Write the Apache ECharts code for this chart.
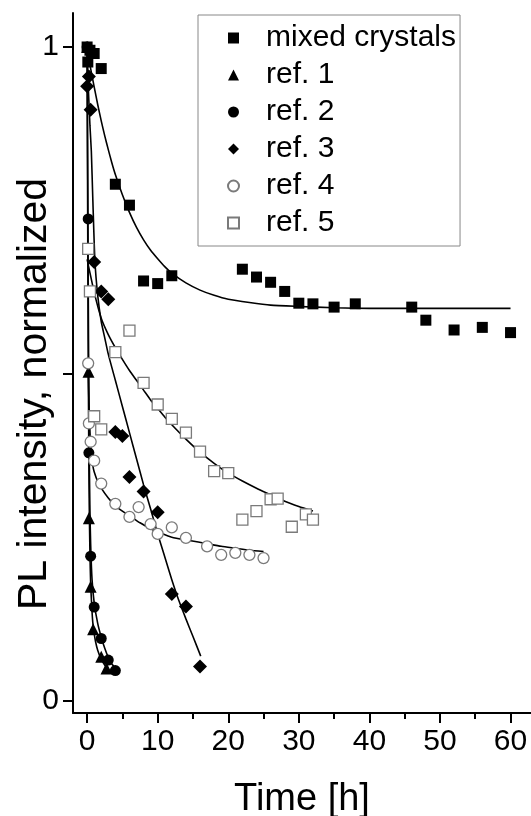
<!DOCTYPE html>
<html>
<head>
<meta charset="utf-8">
<script src="https://cdn.jsdelivr.net/npm/echarts@6/dist/echarts.min.js"></script>
<style>html,body{margin:0;padding:0;background:#fff}#c{width:531px;height:816px}</style>
</head>
<body>
<div id="c"></div>
<script>
// ---- data ----
const seriesNames = ['mixed crystals', 'ref. 1', 'ref. 2', 'ref. 3', 'ref. 4', 'ref. 5'];

const mixedT = [0, 0.1, 0.4, 1, 2, 4, 6, 8, 10, 12, 22, 24, 26, 28, 30, 32, 35, 38, 46, 48, 52, 56, 60];
const mixedI = [1.0, 0.977, 0.995, 0.99, 0.967, 0.79, 0.758, 0.642, 0.638, 0.65, 0.66, 0.648, 0.64, 0.626, 0.608, 0.607, 0.602, 0.607, 0.602, 0.582, 0.567, 0.571, 0.563];

const ref1T = [0, 0.2, 0.25, 0.5, 0.85, 2, 2.75];
const ref1I = [1.0, 0.503, 0.279, 0.174, 0.109, 0.067, 0.049];

const ref2T = [0, 0.15, 0.25, 0.5, 1, 2, 3, 4];
const ref2I = [1.0, 0.737, 0.379, 0.221, 0.143, 0.095, 0.062, 0.046];

const ref3T = [0, 0.25, 0.5, 1, 2, 3, 4, 5, 6, 8, 10, 12, 14, 16];
const ref3I = [0.94, 0.955, 0.904, 0.671, 0.626, 0.614, 0.411, 0.405, 0.342, 0.320, 0.288, 0.163, 0.144, 0.052];

const ref4T = [0.15, 0.25, 0.5, 1, 2, 4, 6, 7.3, 9, 10, 12, 14, 17, 19, 21, 23, 25];
const ref4I = [0.516, 0.424, 0.396, 0.367, 0.332, 0.301, 0.281, 0.296, 0.270, 0.255, 0.265, 0.249, 0.236, 0.223, 0.226, 0.223, 0.218];

const ref5T = [0.15, 0.4, 1, 2, 4, 6, 8, 10, 12, 14, 16, 18, 20, 22, 24, 26, 27, 29, 31, 32];
const ref5I = [0.691, 0.626, 0.435, 0.415, 0.533, 0.566, 0.486, 0.453, 0.431, 0.410, 0.381, 0.351, 0.348, 0.277, 0.290, 0.308, 0.309, 0.266, 0.285, 0.277];

// fitted curves
const mixedFitT = [0, 0.5, 1, 1.5, 2, 2.5, 3, 3.5, 4, 5, 6, 7, 8, 9, 10, 11, 12, 14, 16, 18, 20, 23, 26, 30, 35, 40, 50, 60];
const mixedFitI = [1.0, 0.967, 0.939, 0.912, 0.887, 0.864, 0.843, 0.823, 0.805, 0.774, 0.747, 0.724, 0.705, 0.689, 0.676, 0.664, 0.654, 0.639, 0.628, 0.620, 0.614, 0.609, 0.605, 0.603, 0.601, 0.600, 0.600, 0.600];

const ref1FitT = [0, 0.05, 0.1, 0.15, 0.2, 0.25, 0.3, 0.4, 0.5, 0.65, 0.8, 1.0, 1.2, 1.5, 2, 2.4, 2.8];
const ref1FitI = [1.0, 0.83, 0.68, 0.55, 0.45, 0.36, 0.30, 0.225, 0.18, 0.145, 0.12, 0.103, 0.09, 0.077, 0.063, 0.056, 0.05];

const ref2FitT = [0, 0.05, 0.1, 0.15, 0.2, 0.25, 0.3, 0.4, 0.5, 0.7, 1, 1.5, 2, 2.5, 3, 3.5, 4];
const ref2FitI = [1.0, 0.89, 0.78, 0.66, 0.55, 0.46, 0.38, 0.29, 0.24, 0.185, 0.15, 0.118, 0.097, 0.08, 0.066, 0.056, 0.05];

const ref3FitT = [0, 0.2, 0.4, 0.6, 0.8, 1.1, 1.5, 2, 2.5, 3, 4, 5, 6, 7, 8, 9, 10, 11, 12, 13, 14, 15, 16.1];
const ref3FitI = [1.0, 0.93, 0.88, 0.84, 0.77, 0.674, 0.62, 0.58, 0.555, 0.53, 0.49, 0.45, 0.41, 0.37, 0.33, 0.293, 0.255, 0.22, 0.185, 0.153, 0.125, 0.098, 0.068];

const ref4FitT = [0.15, 0.2, 0.3, 0.45, 0.6, 0.8, 1, 1.5, 2, 3, 4, 5, 6, 7.5, 9, 10.5, 12, 14.5, 17, 19, 21, 23, 25];
const ref4FitI = [0.52, 0.48, 0.44, 0.40, 0.375, 0.36, 0.35, 0.335, 0.325, 0.31, 0.298, 0.29, 0.283, 0.272, 0.263, 0.256, 0.25, 0.245, 0.24, 0.236, 0.233, 0.23, 0.228];

const ref5FitT = [0, 1, 2, 3, 4, 5, 6, 7, 8, 9, 10, 11, 12, 14, 16, 18, 20, 22, 24, 26, 28, 30, 32];
const ref5FitI = [0.675, 0.625, 0.585, 0.56, 0.54, 0.522, 0.505, 0.49, 0.475, 0.46, 0.447, 0.434, 0.422, 0.40, 0.38, 0.363, 0.348, 0.336, 0.325, 0.315, 0.305, 0.297, 0.29];

const xMajorTicks = [0, 10, 20, 30, 40, 50, 60];
const xMinorTicks = [5, 15, 25, 35, 45, 55];
const yTicks = [0, 0.5, 1];
const yLabels = [0, 1];

// ---- build ----
const pairs = (t, v) => t.map((x, i) => [x, v[i]]);
const FONT = "'Liberation Sans', Arial, sans-serif";
const GRAY = '#7a7a7a';

function scatter(name, t, v, symbol, size, color, empty) {
  return {
    name, type: 'scatter', data: pairs(t, v), symbol, symbolSize: size,
    itemStyle: empty ? { color: '#fff', borderColor: color, borderWidth: 1.3, opacity: 1 } : { color: color, opacity: 1 },
    z: 3
  };
}
function fit(t, v) {
  return {
    type: 'line', data: pairs(t, v), smooth: 0.2, showSymbol: false, symbol: 'none',
    lineStyle: { color: '#000', width: 1.6 }, silent: true, z: 2
  };
}

const chart = echarts.init(document.getElementById('c'), null, { renderer: 'canvas' });
chart.setOption({
  animation: false,
  backgroundColor: '#fff',
  textStyle: { fontFamily: FONT },
  grid: { left: 73, right: 0, top: 13, bottom: 103, containLabel: false, outerBoundsMode: 'none' },
  legend: {
    orient: 'vertical', left: 198, top: 15,
    data: seriesNames,
    padding: [8, 4, 8, 29],
    itemGap: 7, itemWidth: 11, itemHeight: 11,
    borderColor: '#888', borderWidth: 1,
    textStyle: { fontSize: 30, color: '#000', fontFamily: FONT, lineHeight: 30, padding: [0, 0, 0, 22] },
    selectedMode: false
  },
  xAxis: [{
    type: 'value', min: -2, max: 62.9,
    axisLine: { onZero: false, lineStyle: { color: '#000', width: 2 } },
    axisTick: { length: 10, inside: false, lineStyle: { color: '#000', width: 2 }, customValues: xMajorTicks },
    axisLabel: { fontSize: 30, color: '#000', margin: 14, fontFamily: FONT, customValues: xMajorTicks },
    splitLine: { show: false },
    name: 'Time [h]', nameLocation: 'middle', nameGap: 68, nameMoveOverlap: false,
    nameTextStyle: { fontSize: 38, color: '#000', fontFamily: FONT }
  }, {
    type: 'value', min: -2, max: 62.9, position: 'bottom', gridIndex: 0,
    axisLine: { show: false, onZero: false },
    axisTick: { length: 6, lineStyle: { color: '#000', width: 2 }, customValues: xMinorTicks },
    axisLabel: { show: false },
    splitLine: { show: false }
  }],
  yAxis: {
    type: 'value', min: -0.019, max: 1.052,
    axisLine: { show: true, onZero: false, lineStyle: { color: '#000', width: 2 } },
    axisTick: { show: true, length: 10, lineStyle: { color: '#000', width: 2 }, customValues: yTicks },
    axisLabel: { fontSize: 30, color: '#000', margin: 14, fontFamily: FONT, customValues: yLabels },
    splitLine: { show: false },
    name: 'PL intensity, normalized', nameLocation: 'middle', nameGap: 18, nameMoveOverlap: false,
    nameTextStyle: { fontSize: 41, color: '#000', fontFamily: FONT, padding: [0, 62, 0, 0] }
  },
  series: [
    scatter(seriesNames[0], mixedT, mixedI, 'rect', 11, '#000', false),
    scatter(seriesNames[1], ref1T, ref1I, 'triangle', 12, '#000', false),
    scatter(seriesNames[2], ref2T, ref2I, 'circle', 11, '#000', false),
    scatter(seriesNames[3], ref3T, ref3I, 'diamond', 14, '#000', false),
    scatter(seriesNames[4], ref4T, ref4I, 'circle', 11, GRAY, true),
    scatter(seriesNames[5], ref5T, ref5I, 'rect', 11, GRAY, true),
    fit(mixedFitT, mixedFitI),
    fit(ref1FitT, ref1FitI),
    fit(ref2FitT, ref2FitI),
    fit(ref3FitT, ref3FitI),
    fit(ref4FitT, ref4FitI),
    fit(ref5FitT, ref5FitI)
  ]
});
</script>
</body>
</html>
